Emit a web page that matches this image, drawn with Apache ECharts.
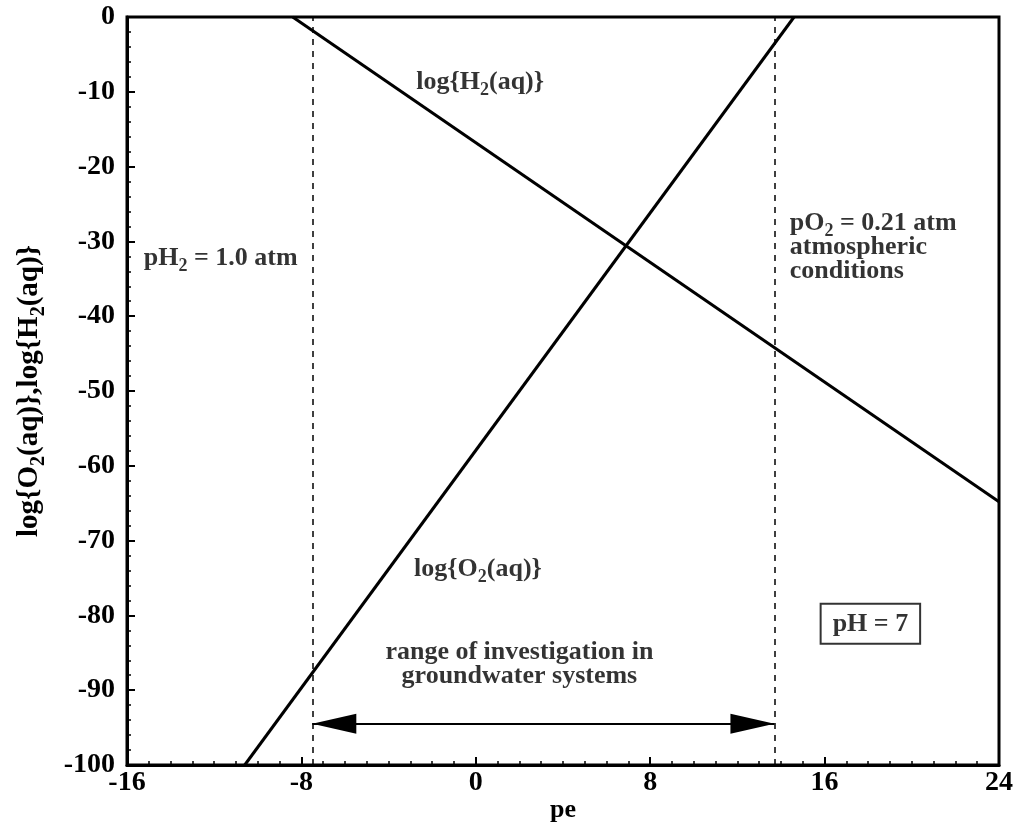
<!DOCTYPE html>
<html>
<head>
<meta charset="utf-8">
<script src="https://cdn.jsdelivr.net/npm/echarts@6/dist/echarts.min.js"></script>
<style>
  html, body { margin: 0; padding: 0; background: #fff; }
  #main { width: 1016px; height: 822px; }
</style>
</head>
<body>
<div id="main"></div>
<script>
// line end points (pe, log value)
const peH2 = [-8.4, 24]
const logH2 = [0, -64.8]
const peO2 = [-10.6, 14.6]
const logO2 = [-100, 0]

// dashed boundaries: pH2 = 1 atm and pO2 = 0.21 atm
const boundPe = [-7.5, 13.7]
const arrowLevel = -94.5

// text notes
const noteText = [
  'log{H{s|2}(aq)}',
  'pH{s|2} = 1.0 atm',
  'pO{s|2} = 0.21 atm\natmospheric\nconditions',
  'log{O{s|2}(aq)}',
  'range of investigation in\ngroundwater systems',
  'pH = 7'
]
const noteX = [0.2, -11.7, 14.4, 0.1, 2.0, 18.1]
const noteY = [-8.7, -32.3, -30.8, -73.9, -86.6, -81.1]

const FONT = '"Liberation Serif", "Times New Roman", serif'
// subscript: small line height so it does not open the line, pushed down by top padding
const sub = { fontSize: 18, fontWeight: 'bold', fontFamily: FONT, color: '#000', lineHeight: 4, padding: [16, 0, 0, 0] }
const subName = { fontSize: 20, fontWeight: 'bold', fontFamily: FONT, color: '#000', lineHeight: 4, padding: [18, 0, 0, 0] }

const chart = echarts.init(document.getElementById('main'), null, { renderer: 'canvas' })

const notes = noteText.map((t, i) => {
  const item = { value: [noteX[i], noteY[i]] }
  if (i === 2) {
    item.label = { align: 'left' }
  }
  if (i === 5) {
    item.label = {
      borderColor: '#000',
      borderWidth: 2,
      padding: [7, 12, 5, 12],
      lineHeight: 28
    }
  }
  return item
})

const option = {
  animation: false,
  grid: {
    left: 127,
    right: 17,
    top: 17,
    bottom: 57,
    outerBoundsMode: 'none',
    show: true,
    borderColor: '#000',
    borderWidth: 3
  },
  xAxis: {
    type: 'value',
    min: -16,
    max: 24,
    interval: 8,
    name: 'pe',
    nameLocation: 'middle',
    nameGap: 32,
    nameMoveOverlap: false,
    nameTextStyle: { fontFamily: FONT, fontWeight: 'bold', fontSize: 26, color: '#000' },
    axisLine: { show: true, onZero: false, lineStyle: { color: '#000', width: 3 } },
    axisTick: { show: true, inside: true, length: 8, lineStyle: { color: '#000', width: 2 } },
    minorTick: { show: true, splitNumber: 8, length: 4, lineStyle: { color: '#000', width: 1.5 } },
    axisLabel: { fontFamily: FONT, fontWeight: 'bold', fontSize: 28, color: '#000', margin: 4 },
    splitLine: { show: false }
  },
  yAxis: {
    type: 'value',
    min: -100,
    max: 0,
    interval: 10,
    name: 'log{O{s|2}(aq)},log{H{s|2}(aq)}',
    nameLocation: 'middle',
    nameRotate: 90,
    nameGap: 84,
    nameMoveOverlap: false,
    nameTextStyle: {
      fontFamily: FONT, fontWeight: 'bold', fontSize: 29, color: '#000', lineHeight: 26,
      rich: { s: subName }
    },
    axisLine: { show: true, onZero: false, lineStyle: { color: '#000', width: 3 } },
    axisTick: { show: true, inside: true, length: 8, lineStyle: { color: '#000', width: 2 } },
    minorTick: { show: true, splitNumber: 5, length: 4, lineStyle: { color: '#000', width: 1.5 } },
    axisLabel: { fontFamily: FONT, fontWeight: 'bold', fontSize: 28, color: '#000', margin: 12 },
    splitLine: { show: false }
  },
  series: [
    {
      name: 'H2',
      type: 'line',
      data: peH2.map((x, i) => [x, logH2[i]]),
      symbol: 'none',
      silent: true,
      lineStyle: { color: '#000', width: 3 }
    },
    {
      name: 'O2',
      type: 'line',
      data: peO2.map((x, i) => [x, logO2[i]]),
      symbol: 'none',
      silent: true,
      lineStyle: { color: '#000', width: 3 },
      markLine: {
        silent: true,
        symbol: 'none',
        label: { show: false },
        lineStyle: { color: '#000', width: 1.5, type: [6, 6] },
        data: boundPe.map(x => ({ xAxis: x }))
      }
    },
    {
      name: 'range',
      type: 'line',
      data: [],
      symbol: 'none',
      silent: true,
      markLine: {
        silent: true,
        symbol: ['triangle', 'triangle'],
        symbolSize: [20, 44],
        // one offset per end, pulls each head back so its tip sits on the dashed line
        symbolOffset: [[0, 22], [0, 22]],
        label: { show: false },
        lineStyle: { color: '#000', width: 2, type: 'solid' },
        itemStyle: { color: '#000' },
        data: [[
          { coord: [boundPe[0], arrowLevel] },
          { coord: [boundPe[1], arrowLevel] }
        ]]
      }
    },
    {
      name: 'notes',
      type: 'scatter',
      silent: true,
      symbolSize: 1,
      itemStyle: { color: 'rgba(0,0,0,0)' },
      data: notes,
      label: {
        show: true,
        position: 'inside',
        fontFamily: FONT,
        fontWeight: 'bold',
        fontSize: 26,
        color: '#000',
        lineHeight: 24,
        formatter: p => noteText[p.dataIndex],
        rich: { s: sub }
      }
    }
  ]
}

chart.setOption(option)
</script>
</body>
</html>
